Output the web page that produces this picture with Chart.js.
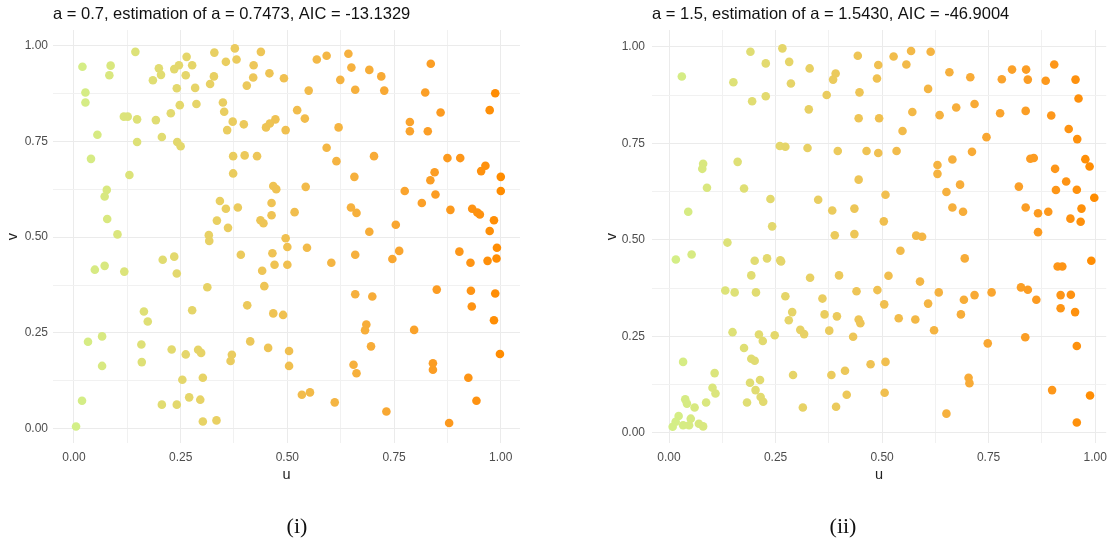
<!DOCTYPE html>
<html><head><meta charset="utf-8">
<script src="https://cdn.jsdelivr.net/npm/chart.js@4.4.0/dist/chart.umd.min.js"></script>
<style>
html,body{margin:0;padding:0;background:#fff;overflow:hidden;width:1114px;height:548px;}
#c1{position:absolute;left:0;top:0;}
#c2{position:absolute;left:572px;top:0;}
</style></head><body>
<canvas id="c1" width="594" height="548"></canvas>
<canvas id="c2" width="542" height="548"></canvas>
<script>
// ---------- data ----------
const titleLeft = 'a = 0.7, estimation of a = 0.7473, AIC = -13.1329';
const titleRight = 'a = 1.5, estimation of a = 1.5430, AIC = -46.9004';
const captionLeft = '(i)';
const captionRight = '(ii)';
const xTitle = 'u';
const yTitle = 'v';
const gridValues = [0, 0.125, 0.25, 0.375, 0.5, 0.625, 0.75, 0.875, 1];
const tickLabels = ['0.00', '', '0.25', '', '0.50', '', '0.75', '', '1.00'];

const leftU = [0.020,0.027,0.027,0.086,0.083,0.144,0.055,0.040,0.117,0.126,0.148,0.148,0.130,0.077,0.072,0.078,0.102,0.185,0.199,0.204,0.235,0.246,0.264,0.262,0.277,0.241,0.284,0.248,0.287,0.227,0.192,0.206,0.242,0.250,0.329,0.377,0.381,0.356,0.328,0.319,0.349,0.352,0.372,0.359,0.398,0.405,0.421,0.420,0.438,0.458,0.492,0.450,0.459,0.472,0.496,0.373,0.400,0.429,0.373,0.467,0.474,0.342,0.356,0.384,0.335,0.361,0.463,0.463,0.437,0.444,0.316,0.496,
0.569,0.592,0.643,0.650,0.692,0.720,0.624,0.659,0.727,0.550,0.836,0.823,0.859,0.787,0.787,0.829,0.987,0.974,0.523,0.541,0.620,0.592,0.615,0.703,0.657,0.875,0.905,0.964,0.954,0.845,0.835,1.000,1.000,0.775,0.847,0.815,0.882,0.933,0.945,0.951,0.984,0.974,0.754,0.692,0.649,0.662,0.543,0.517,
0.049,0.072,0.118,0.208,0.235,0.241,0.317,0.391,0.3125,0.441,0.465,0.470,0.500,0.500,0.446,0.406,0.277,0.164,0.173,0.467,0.490,0.033,0.066,0.066,0.158,0.159,0.229,0.262,0.291,0.298,0.370,0.367,0.413,0.455,0.504,0.504,0.254,0.302,0.019,0.005,0.206,0.241,0.270,0.296,0.302,0.334,
0.546,0.603,0.659,0.746,0.762,0.903,0.929,0.969,0.990,0.991,0.850,0.930,0.987,0.932,0.984,0.659,0.699,0.685,0.682,0.797,0.696,0.655,0.662,0.841,0.841,0.998,0.924,0.943,0.879,0.534,0.553,0.611,0.732];
const leftV = [0.944,0.877,0.851,0.947,0.922,0.983,0.767,0.704,0.814,0.814,0.807,0.748,0.662,0.623,0.606,0.547,0.507,0.909,0.940,0.923,0.938,0.948,0.970,0.922,0.948,0.888,0.889,0.844,0.847,0.823,0.805,0.761,0.748,0.737,0.981,0.992,0.963,0.957,0.919,0.899,0.851,0.827,0.801,0.779,0.794,0.895,0.948,0.916,0.983,0.927,0.914,0.786,0.796,0.807,0.779,0.711,0.713,0.711,0.666,0.633,0.625,0.594,0.574,0.577,0.543,0.524,0.589,0.557,0.544,0.536,0.505,0.497,
0.963,0.973,0.978,0.942,0.936,0.919,0.910,0.884,0.882,0.882,0.952,0.877,0.825,0.800,0.776,0.776,0.875,0.831,0.831,0.809,0.786,0.733,0.698,0.711,0.657,0.706,0.706,0.686,0.672,0.669,0.648,0.657,0.620,0.620,0.611,0.589,0.571,0.574,0.564,0.559,0.544,0.516,0.532,0.514,0.577,0.563,0.631,0.565,
0.415,0.425,0.410,0.441,0.449,0.405,0.490,0.454,0.369,0.412,0.458,0.428,0.474,0.428,0.372,0.322,0.309,0.306,0.280,0.301,0.297,0.227,0.241,0.164,0.220,0.174,0.207,0.194,0.206,0.198,0.193,0.177,0.228,0.211,0.203,0.164,0.128,0.133,0.073,0.006,0.063,0.063,0.082,0.076,0.019,0.022,
0.472,0.433,0.454,0.443,0.464,0.462,0.433,0.438,0.444,0.472,0.363,0.360,0.353,0.319,0.283,0.351,0.345,0.272,0.257,0.258,0.215,0.167,0.145,0.171,0.154,0.195,0.133,0.073,0.015,0.089,0.095,0.069,0.045];

const rightU = [0.030,0.191,0.227,0.266,0.282,0.330,0.286,0.151,0.195,0.227,0.328,0.370,0.385,0.391,0.443,0.491,0.488,0.447,0.445,0.493,0.260,0.273,0.325,0.396,0.4635,0.491,0.080,0.078,0.161,0.089,0.176,0.445,0.238,0.350,0.383,0.435,0.045,0.242,0.389,0.435,0.508,0.504,
0.527,0.568,0.614,0.557,0.658,0.707,0.608,0.571,0.635,0.674,0.717,0.548,0.745,0.534,0.630,0.630,0.665,0.711,0.683,0.651,0.665,0.690,0.781,0.805,0.838,0.842,0.904,0.884,0.954,0.961,0.777,0.837,0.897,0.938,0.958,0.848,0.856,0.906,0.977,0.987,0.932,0.908,0.957,0.821,0.998,0.837,0.866,0.890,0.968,0.942,0.966,0.866,
0.137,0.016,0.053,0.201,0.230,0.261,0.263,0.193,0.331,0.399,0.132,0.154,0.204,0.273,0.360,0.289,0.281,0.365,0.394,0.440,0.445,0.449,0.489,0.149,0.211,0.220,0.248,0.308,0.317,0.376,0.432,0.176,0.193,0.201,0.2135,0.190,0.203,0.215,0.221,0.183,0.033,0.107,0.102,0.109,0.087,0.038,0.042,0.060,0.051,0.047,0.033,0.070,0.080,0.0225,0.0155,0.0085,0.291,0.314,0.381,0.413,0.417,0.392,0.473,0.508,0.506,
0.580,0.594,0.543,0.694,0.515,0.589,0.505,0.633,0.608,0.692,0.717,0.757,0.539,0.578,0.622,0.685,0.826,0.842,0.862,0.912,0.923,0.991,0.919,0.943,0.919,0.953,0.836,0.748,0.957,0.703,0.705,0.651,0.899,0.988,0.957];
const rightV = [0.923,0.987,0.957,0.996,0.961,0.944,0.905,0.908,0.859,0.872,0.838,0.875,0.915,0.931,0.977,0.953,0.918,0.882,0.815,0.815,0.743,0.741,0.738,0.730,0.730,0.725,0.697,0.684,0.702,0.635,0.633,0.656,0.606,0.604,0.576,0.581,0.573,0.535,0.512,0.515,0.617,0.548,
0.975,0.989,0.987,0.954,0.934,0.921,0.891,0.831,0.823,0.843,0.852,0.782,0.766,0.730,0.694,0.671,0.708,0.728,0.643,0.624,0.584,0.573,0.916,0.941,0.941,0.915,0.954,0.912,0.915,0.866,0.828,0.834,0.822,0.787,0.761,0.710,0.712,0.684,0.709,0.690,0.651,0.629,0.630,0.638,0.609,0.584,0.569,0.573,0.581,0.555,0.547,0.520,
0.493,0.449,0.462,0.446,0.452,0.447,0.444,0.408,0.402,0.408,0.369,0.364,0.364,0.354,0.348,0.313,0.292,0.307,0.302,0.367,0.294,0.284,0.370,0.261,0.255,0.238,0.253,0.267,0.256,0.265,0.249,0.220,0.192,0.187,0.137,0.130,0.111,0.093,0.081,0.079,0.184,0.155,0.117,0.102,0.079,0.087,0.076,0.066,0.037,0.020,0.020,0.024,0.017,0.044,0.029,0.016,0.150,0.066,0.150,0.161,0.099,0.068,0.178,0.184,0.104,
0.511,0.508,0.472,0.452,0.407,0.392,0.333,0.364,0.335,0.345,0.357,0.364,0.297,0.294,0.266,0.307,0.377,0.371,0.345,0.431,0.431,0.446,0.357,0.358,0.323,0.313,0.248,0.232,0.225,0.143,0.129,0.050,0.111,0.097,0.027];

const colorLow = '#d3ef88';
const colorHigh = '#ff8c00';

// ---------- colour scale (Lab interpolation, like ggplot) ----------
function hexToRgb(h){return [1,3,5].map(i=>parseInt(h.substr(i,2),16));}
function srgbToLin(c){c/=255;return c<=0.04045?c/12.92:Math.pow((c+0.055)/1.055,2.4);}
function linToSrgb(c){c=c<=0.0031308?12.92*c:1.055*Math.pow(c,1/2.4)-0.055;return Math.max(0,Math.min(255,Math.round(c*255)));}
function rgbToLab(rgb){
  const [r,g,b]=rgb.map(srgbToLin);
  let x=(r*0.4124+g*0.3576+b*0.1805)/0.95047,y=(r*0.2126+g*0.7152+b*0.0722),z=(r*0.0193+g*0.1192+b*0.9505)/1.08883;
  const f=t=>t>0.008856?Math.cbrt(t):7.787*t+16/116;
  return [116*f(y)-16,500*(f(x)-f(y)),200*(f(y)-f(z))];
}
function labToRgb(lab){
  const fy=(lab[0]+16)/116,fx=fy+lab[1]/500,fz=fy-lab[2]/200;
  const fi=t=>t*t*t>0.008856?t*t*t:(t-16/116)/7.787;
  const x=fi(fx)*0.95047,y=fi(fy),z=fi(fz)*1.08883;
  const r=x*3.2406+y*-1.5372+z*-0.4986,g=x*-0.9689+y*1.8758+z*0.0415,b=x*0.0557+y*-0.2040+z*1.0570;
  return [linToSrgb(r),linToSrgb(g),linToSrgb(b)];
}
const labLow=rgbToLab(hexToRgb(colorLow)), labHigh=rgbToLab(hexToRgb(colorHigh));
function colourFor(t){
  const l=labLow.map((v,i)=>v+(labHigh[i]-v)*t);
  const c=labToRgb(l);return 'rgb('+c.join(',')+')';
}

// ---------- chart builder ----------
const FONT='"Liberation Sans", Arial, sans-serif';
function makeChart(canvasId, us, vs, title, caption, cfg){
  const pts = us.map((u,i)=>({x:u,y:vs[i]}));
  const setTicks = s => { s.ticks = gridValues.map(v=>({value:v})); };
  const gridColor = ctx => (ctx.tick && gridValues.indexOf(ctx.tick.value)%2===0) ? '#ebebeb' : '#f1f1f1';
  const scales = {
    x:{type:'linear', min:cfg.xmin, max:cfg.xmax,
      afterBuildTicks:setTicks,
      afterFit:s=>{s.height=41;},
      border:{display:false},
      grid:{color:gridColor, lineWidth:1, drawTicks:false},
      ticks:{autoSkip:false, maxRotation:0, padding:7, color:'#4d4d4d', font:{family:FONT,size:12},
        callback:(v,i)=>tickLabels[gridValues.indexOf(v)] ?? ''},
      title:{display:true, text:xTitle, color:'#222', font:{family:FONT,size:14.5}, padding:{top:0,bottom:0}}
    },
    y:{type:'linear', position:'left', min:cfg.ymin, max:cfg.ymax,
      afterBuildTicks:setTicks,
      afterFit:s=>{s.width=cfg.yw;},
      border:{display:false},
      grid:{color:gridColor, lineWidth:1, drawTicks:false},
      ticks:{autoSkip:false, padding:cfg.ypad, color:'#4d4d4d', font:{family:FONT,size:12},
        callback:(v,i)=>tickLabels[gridValues.indexOf(v)] ?? ''},
      title:{display:true, text:yTitle, color:'#222', font:{family:FONT,size:14.5}, padding:{top:cfg.ytp,bottom:0}}
    }
  };
  if (cfg.rightGap > 0) {
    // empty spacer on the right of the panel (keeps the caption centred on the figure column)
    scales.gap = {type:'linear', position:'right', min:0, max:1, display:true,
      afterFit:s=>{s.width=cfg.rightGap;},
      border:{display:false}, grid:{display:false}, ticks:{display:false}, title:{display:false}};
  }
  return new Chart(document.getElementById(canvasId), {
    type:'scatter',
    data:{datasets:[{data:pts, xAxisID:'x', yAxisID:'y',
      backgroundColor: pts.map(p=>colourFor(p.x)),
      borderWidth:0, pointRadius:4.3, pointHoverRadius:4.3}]},
    options:{
      responsive:false, animation:false, events:[],
      layout:{padding:0},
      plugins:{
        legend:{display:false}, tooltip:{enabled:false},
        title:{display:true, text:title, align:'start', fullSize:false, color:'#111',
          font:{family:FONT,size:16.5,weight:'normal'}, padding:{top:5,bottom:5.2}},
        subtitle:{display:true, text:caption, position:'bottom', align:'center', color:'#111',
          font:{family:'"Liberation Serif", "DejaVu Serif", serif',size:22,weight:'normal'}, padding:{top:29.8,bottom:7.8}}
      },
      scales:scales
    }
  });
}

makeChart('c1', leftU, leftV, titleLeft, captionLeft,
  {xmin:-0.049, xmax:1.045, ymin:-0.037, ymax:1.040, yw:53, ypad:5, ytp:4.3, rightGap:74});
makeChart('c2', rightU, rightV, titleRight, captionRight,
  {xmin:-0.040, xmax:1.026, ymin:-0.026, ymax:1.0435, yw:80, ypad:7, ytp:31.7, rightGap:0});
</script>
</body></html>
